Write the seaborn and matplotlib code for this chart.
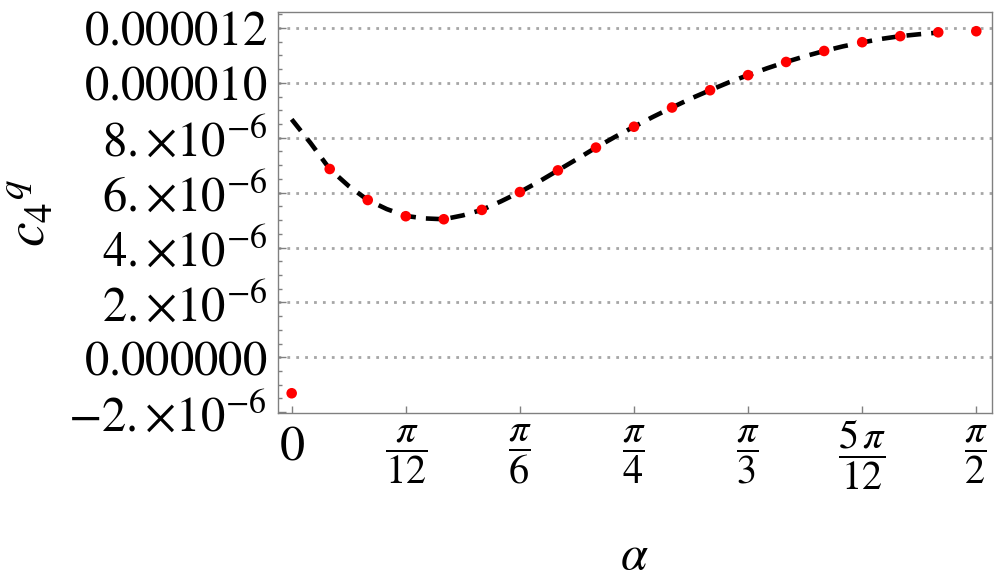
import numpy as np
import pandas as pd
import matplotlib
matplotlib.use('Agg')
import matplotlib.pyplot as plt
import seaborn as sns
from matplotlib.ticker import FixedLocator
from matplotlib.transforms import ScaledTranslation

# red points, one every 5 degrees (c4^q in units of 1e-6)
alpha_deg_pts = [0, 5, 10, 15, 20, 25, 30, 35, 40, 45, 50, 55, 60, 65, 70, 75, 80, 85, 90]
c4q_pts = [-1.31, 6.86, 5.73, 5.14, 5.03, 5.37, 6.02, 6.81, 7.64, 8.40, 9.10,
           9.73, 10.28, 10.76, 11.16, 11.48, 11.70, 11.84, 11.88]

# dashed fit curve, read every 2.5 degrees (stops at 85 deg)
alpha_deg_fit = [0, 2.5, 5, 7.5, 10, 12.5, 15, 17.5, 20, 22.5, 25, 27.5, 30, 32.5, 35,
                 37.5, 40, 42.5, 45, 47.5, 50, 52.5, 55, 57.5, 60, 62.5, 65, 67.5, 70,
                 72.5, 75, 77.5, 80, 82.5, 85]
c4q_fit = [8.67, 7.80, 6.86, 6.24, 5.73, 5.40, 5.15, 5.06, 5.03, 5.17, 5.37, 5.68,
           6.02, 6.40, 6.81, 7.22, 7.64, 8.03, 8.40, 8.76, 9.10, 9.43, 9.73, 10.02,
           10.28, 10.53, 10.76, 10.97, 11.16, 11.33, 11.47, 11.60, 11.70, 11.77, 11.83]

xtick_deg = [0, 15, 30, 45, 60, 75, 90]
xtick_labels = [r'$0$', r'$\dfrac{\pi}{12}$', r'$\dfrac{\pi}{6}$', r'$\dfrac{\pi}{4}$',
                r'$\dfrac{\pi}{3}$', r'$\dfrac{5\,\pi}{12}$', r'$\dfrac{\pi}{2}$']
ytick_vals = [-2, 0, 2, 4, 6, 8, 10, 12]
ytick_labels = [r'$-2.{\times}10^{-6}$', r'$0.000000$', r'$2.{\times}10^{-6}$',
                r'$4.{\times}10^{-6}$', r'$6.{\times}10^{-6}$', r'$8.{\times}10^{-6}$',
                r'$0.000010$', r'$0.000012$']

sns.set_theme(style='white')
plt.rcParams['font.family'] = ['Liberation Serif', 'DejaVu Serif']
plt.rcParams['mathtext.fontset'] = 'stix'

pts = pd.DataFrame({'alpha': np.deg2rad(alpha_deg_pts), 'c4q': np.array(c4q_pts) * 1e-6})
fit = pd.DataFrame({'alpha': np.deg2rad(alpha_deg_fit), 'c4q': np.array(c4q_fit) * 1e-6})

fig = plt.figure(figsize=(9.96, 5.8), dpi=100)
ax = fig.add_axes([0.2791, 0.2879, 0.7169, 0.6914])

# dotted horizontal grid
for v in ytick_vals[1:]:
    ax.axhline(v * 1e-6, color='#a6a6a6', lw=2.0, linestyle=(0, (1, 2.2)), zorder=0)

sns.lineplot(data=fit, x='alpha', y='c4q', ax=ax, color='black', linewidth=3.3,
             linestyle=(0, (3.2, 2.2)), estimator=None, sort=False, zorder=2)
sns.scatterplot(data=pts, x='alpha', y='c4q', ax=ax, color='red', s=58,
                edgecolor='none', linewidth=0, zorder=3, legend=False)

ax.set_xlim(-0.0314, 1.6069)
ax.set_ylim(-2.03e-6, 12.58e-6)

ax.set_xticks(np.deg2rad(xtick_deg))
ax.set_xticklabels(xtick_labels, va='center')
ax.set_yticks(np.array(ytick_vals) * 1e-6)
ax.set_yticklabels(ytick_labels, fontsize=35)
ax.yaxis.set_minor_locator(FixedLocator(np.arange(-2, 12.6, 0.5) * 1e-6))

ax.tick_params(axis='both', which='both', direction='in', color='#808080', width=1.0,
               labelcolor='black')
ax.tick_params(axis='y', which='major', length=6, pad=8, left=True)
ax.tick_params(axis='y', which='minor', length=3, left=True)
ax.tick_params(axis='x', which='major', length=5, pad=30, bottom=True)
ax.tick_params(axis='x', which='minor', bottom=False)

for i, lbl in enumerate(ax.get_xticklabels()):
    lbl.set_fontsize(36 if i == 0 else 29)
# the plain "0" sits a bit higher than the fractions
t0 = ax.xaxis.get_major_ticks()[0].label1
t0.set_transform(t0.get_transform() + ScaledTranslation(0, 5 / 72, fig.dpi_scale_trans))

for s in ax.spines.values():
    s.set_color('#808080')
    s.set_linewidth(1.0)

ax.set_xlabel(r'$\alpha$', fontsize=35, va='center', color='black')
ax.xaxis.set_label_coords(0.4993, -0.358)
ax.set_ylabel(r'${c_4}^{q}$', fontsize=40, va='center', color='black')
ax.yaxis.set_label_coords(-0.346, 0.499)

fig.savefig('out.png', dpi=100)
